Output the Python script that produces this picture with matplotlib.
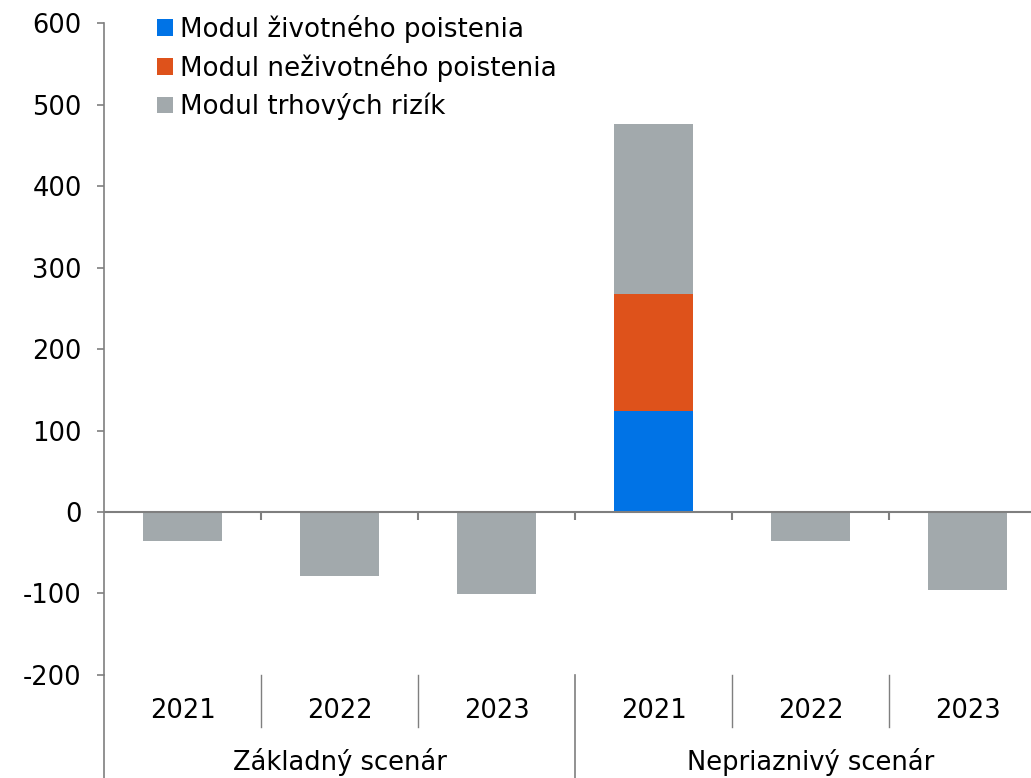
import matplotlib
matplotlib.use("Agg")
import matplotlib.pyplot as plt
import matplotlib.transforms as mtransforms
import numpy as np

plt.rcParams['font.family'] = ['DejaVu Sans']
plt.rcParams['font.size'] = 18.5
plt.rcParams['axes.unicode_minus'] = False

years = ['2021', '2022', '2023', '2021', '2022', '2023']
groups = ['Základný scenár', 'Nepriaznivý scenár']
zivot = [0, 0, 0, 124, 0, 0]
nezivot = [0, 0, 0, 143, 0, 0]
trh = [-36, -78, -101, 209, -36, -96]
series_names = ['Modul životného poistenia', 'Modul neživotného poistenia', 'Modul trhových rizík']
colors = ['#0073E6', '#DE521B', '#A2A9AC']
axis_col = '#7F7F7F'

fig = plt.figure(figsize=(10.31, 7.78), dpi=100)
ax = fig.add_axes([0.1009, 0.1324, 0.8991, 0.8380])

x = np.arange(len(years))
z = np.array(zivot)
n = np.array(nezivot)
t = np.array(trh)
bottom_t = np.where(t > 0, z + n, 0)

ax.bar(x, z, 0.5, color=colors[0], label=series_names[0])
ax.bar(x, n, 0.5, bottom=z, color=colors[1], label=series_names[1])
ax.bar(x, t, 0.5, bottom=bottom_t, color=colors[2], label=series_names[2])

ax.set_xlim(-0.5, 5.404)
ax.set_ylim(-200, 600)
ax.set_yticks(np.arange(-200, 601, 100))
ax.set_xticks([])
for s in ['top', 'right', 'bottom']:
    ax.spines[s].set_visible(False)
ax.spines['left'].set_color(axis_col)
ax.spines['left'].set_linewidth(1.2)
ax.tick_params(axis='y', length=5, width=1.2, color=axis_col, pad=11, labelsize=18.5)

# category axis at zero
ax.axhline(0, color=axis_col, lw=1.5, zorder=3)
ax.vlines(np.arange(0.5, 5.5, 1), -10, 0, color=axis_col, lw=1.5, zorder=3)

# multi-level labels
trans = mtransforms.blended_transform_factory(ax.transData, fig.transFigure)
for i, yr in enumerate(years):
    ax.text(i, 0.0861, yr, transform=trans, ha='center', va='center', clip_on=False)
for i, g in enumerate(groups):
    ax.text(1 + 3 * i, 0.0206, g, transform=trans, ha='center', va='center', clip_on=False)
for b in [0.5, 1.5, 3.5, 4.5]:
    ax.plot([b, b], [0.0656, 0.1324], transform=trans, color=axis_col, lw=1, clip_on=False)
for b in [-0.5, 2.5]:
    ax.plot([b, b], [0, 0.1324], transform=trans, color=axis_col, lw=1.2, clip_on=False)

ax.legend(loc='upper left', bbox_to_anchor=(0.1425, 0.9945), bbox_transform=fig.transFigure,
          frameon=False, fontsize=18.8, handlelength=0.58, handleheight=0.58,
          handletextpad=0.28, labelspacing=0.42, borderaxespad=0)

fig.savefig('out.png', dpi=100)
